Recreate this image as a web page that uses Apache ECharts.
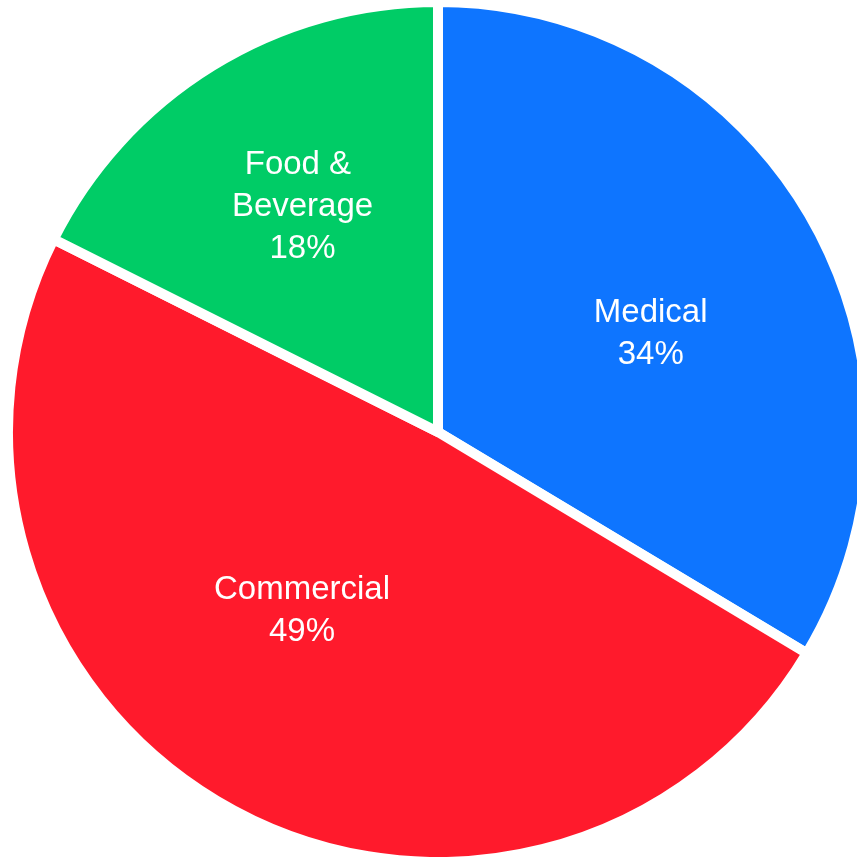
<!DOCTYPE html>
<html>
<head>
<meta charset="utf-8">
<script src="https://cdn.jsdelivr.net/npm/echarts@6/dist/echarts.min.js"></script>
<style>html,body{margin:0;padding:0;background:#fff;}#chart{width:857px;height:857px;}</style>
</head>
<body>
<div id="chart"></div>
<script>
var categories = ['Medical', 'Commercial', 'Food & Beverage'];
var values = [33.6, 48.8, 17.6];
var colors = ['#0E75FF', '#FF1A2C', '#00CC66'];
var labelOffsets = [[23, 9], [-31, -12], [-21, -40]];

var data = categories.map(function (c, i) {
  var item = {
    name: c,
    value: values[i],
    itemStyle: { color: colors[i] },
    label: { offset: labelOffsets[i] }
  };
  if (c.length > 12) { item.label.width = 170; item.label.overflow = 'break'; }
  return item;
});

var chart = echarts.init(document.getElementById('chart'));
chart.setOption({
  animation: false,
  backgroundColor: '#ffffff',
  series: [{
    type: 'pie',
    center: [438, 432],
    radius: [0, 430],
    startAngle: 90,
    clockwise: true,
    data: data,
    itemStyle: { borderColor: '#ffffff', borderWidth: 10 },
    emphasis: { disabled: true },
    label: {
      show: true,
      position: 'inside',
      color: '#ffffff',
      fontFamily: 'Liberation Sans, Arial, sans-serif',
      fontSize: 33,
      lineHeight: 42,
      align: 'center',
      formatter: function (p) { return p.name + '\n' + Math.round(p.percent) + '%'; }
    },
    labelLine: { show: false }
  }]
});
</script>
</body>
</html>
